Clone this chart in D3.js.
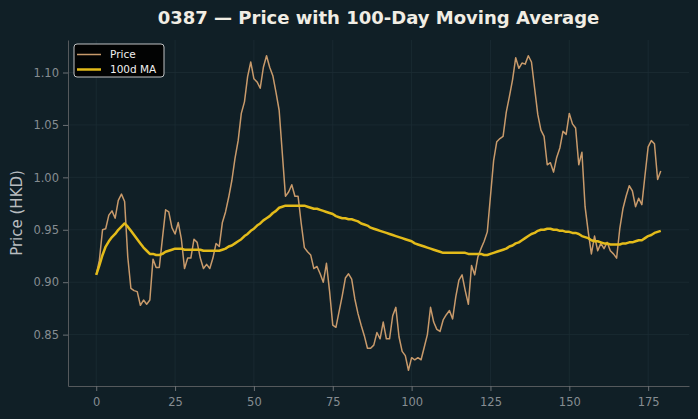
<!DOCTYPE html>
<html>
<head>
<meta charset="utf-8">
<script src="https://cdn.jsdelivr.net/npm/d3@7"></script>
<style>
  html, body { margin: 0; padding: 0; background: #101f26; }
  svg { display: block; }
</style>
</head>
<body>
<svg id="vis"></svg>
<script>
// price series (one value per trading day)
const price = [
  0.907, 0.921, 0.950, 0.951, 0.964, 0.968, 0.961, 0.978, 0.984, 0.977,
  0.924, 0.894, 0.892, 0.891, 0.878, 0.883, 0.879, 0.883, 0.922, 0.914,
  0.914, 0.942, 0.969, 0.967, 0.952, 0.946, 0.957, 0.941, 0.913, 0.923,
  0.923, 0.941, 0.938, 0.923, 0.913, 0.917, 0.913, 0.923, 0.937, 0.934,
  0.957, 0.967, 0.981, 0.997, 1.018, 1.035, 1.061, 1.072, 1.096, 1.110,
  1.094, 1.091, 1.085, 1.105, 1.116, 1.105, 1.097, 1.081, 1.064, 1.023,
  0.982, 0.986, 0.993, 0.982, 0.982, 0.956, 0.933, 0.929, 0.926, 0.913,
  0.915, 0.908, 0.900, 0.918, 0.891, 0.859, 0.857, 0.872, 0.887, 0.904,
  0.908, 0.903, 0.884, 0.870, 0.859, 0.849, 0.837, 0.837, 0.840, 0.852,
  0.846, 0.862, 0.846, 0.846, 0.868, 0.876, 0.848, 0.834, 0.830, 0.816,
  0.828, 0.826, 0.828, 0.826, 0.838, 0.850, 0.876, 0.862, 0.855, 0.853,
  0.864, 0.869, 0.873, 0.865, 0.886, 0.902, 0.907, 0.892, 0.879, 0.916,
  0.907, 0.924, 0.932, 0.939, 0.948, 0.982, 1.016, 1.034, 1.037, 1.039,
  1.062, 1.077, 1.093, 1.114, 1.104, 1.109, 1.108, 1.116, 1.110, 1.085,
  1.060, 1.045, 1.039, 1.012, 1.014, 1.005, 1.019, 1.028, 1.044, 1.041,
  1.061, 1.051, 1.047, 1.012, 1.024, 0.972, 0.948, 0.927, 0.944, 0.930,
  0.937, 0.932, 0.938, 0.930, 0.927, 0.923, 0.951, 0.970, 0.982, 0.992,
  0.987, 0.972, 0.980, 0.974, 1.002, 1.029, 1.035, 1.032, 0.998, 1.006
];

// 100 day moving average, also
const ma100 = [
  0.907, 0.916, 0.926, 0.934, 0.939, 0.943, 0.946, 0.950, 0.953, 0.956,
  0.953, 0.949, 0.945, 0.941, 0.937, 0.933, 0.930, 0.927, 0.927, 0.926,
  0.926, 0.927, 0.929, 0.930, 0.931, 0.932, 0.932, 0.932, 0.931, 0.931,
  0.931, 0.931, 0.931, 0.931, 0.930, 0.930, 0.930, 0.930, 0.930, 0.930,
  0.931, 0.932, 0.934, 0.935, 0.937, 0.939, 0.941, 0.944, 0.946, 0.949,
  0.951, 0.954, 0.956, 0.959, 0.961, 0.963, 0.966, 0.968, 0.971, 0.972,
  0.973, 0.973, 0.973, 0.973, 0.973, 0.973, 0.973, 0.972, 0.971, 0.970,
  0.970, 0.969, 0.968, 0.967, 0.966, 0.965, 0.963, 0.962, 0.961, 0.961,
  0.960, 0.960, 0.959, 0.958, 0.956, 0.955, 0.954, 0.952, 0.951, 0.950,
  0.949, 0.948, 0.947, 0.946, 0.945, 0.944, 0.943, 0.942, 0.941, 0.940,
  0.939, 0.937, 0.936, 0.935, 0.934, 0.933, 0.932, 0.931, 0.930, 0.929,
  0.928, 0.928, 0.928, 0.928, 0.928, 0.928, 0.928, 0.928, 0.927, 0.927,
  0.927, 0.927, 0.927, 0.926, 0.926, 0.927, 0.928, 0.929, 0.930, 0.931,
  0.932, 0.934, 0.935, 0.937, 0.938, 0.940, 0.942, 0.944, 0.946, 0.947,
  0.949, 0.950, 0.950, 0.951, 0.951, 0.950, 0.950, 0.949, 0.949, 0.948,
  0.948, 0.947, 0.947, 0.946, 0.944, 0.943, 0.942, 0.940, 0.939, 0.939,
  0.938, 0.937, 0.937, 0.936, 0.936, 0.936, 0.936, 0.937, 0.937, 0.938,
  0.938, 0.939, 0.940, 0.940, 0.942, 0.944, 0.945, 0.947, 0.948, 0.949
];

const xTicks = [0, 25, 50, 75, 100, 125, 150, 175];
const yTicks = [0.85, 0.90, 0.95, 1.00, 1.05, 1.10];
const seriesNames = ["Price", "100d MA"];

const W = 698, H = 419;
const MARGINS = {top: 40, right: 9, bottom: 33, left: 68};
const BG = "#101f26";
const PRICE_COL = "#c89a6b";
const MA_COL = "#e3bb1a";

let svg = d3.select("#vis")
    .attr("width", W)
    .attr("height", H);

svg.append("rect")
    .attr("width", W)
    .attr("height", H)
    .attr("fill", BG);

let innerW = W - MARGINS.left - MARGINS.right;
let innerH = H - MARGINS.top - MARGINS.bottom;

// matplotlib style 5% padding on both axes
let n = price.length - 1;
let xPad = n * 0.05;
let yMin = d3.min(price.concat(ma100)), yMax = d3.max(price.concat(ma100));
let yPad = (yMax - yMin) * 0.05;

let x = d3.scaleLinear()
    .domain([-xPad, n + xPad])
    .range([MARGINS.left, MARGINS.left + innerW]);

let y = d3.scaleLinear()
    .domain([yMin - yPad, yMax + yPad])
    .range([MARGINS.top + innerH, MARGINS.top]);

// faint grid
let grid = svg.append("g");
grid.selectAll("line.gx")
    .data(xTicks)
    .enter().append("line")
    .attr("x1", d => x(d)).attr("x2", d => x(d))
    .attr("y1", MARGINS.top).attr("y2", MARGINS.top + innerH)
    .attr("stroke", "#1c2c33")
    .attr("stroke-width", 0.8);
grid.selectAll("line.gy")
    .data(yTicks)
    .enter().append("line")
    .attr("x1", MARGINS.left).attr("x2", MARGINS.left + innerW)
    .attr("y1", d => y(d)).attr("y2", d => y(d))
    .attr("stroke", "#1c2c33")
    .attr("stroke-width", 0.8);

// axes
let xAxis = svg.append("g")
    .attr("transform", "translate(0," + (MARGINS.top + innerH) + ")")
    .call(d3.axisBottom(x).tickValues(xTicks).tickSize(5).tickPadding(4).tickSizeOuter(0));
let yAxis = svg.append("g")
    .attr("transform", "translate(" + MARGINS.left + ",0)")
    .call(d3.axisLeft(y).tickValues(yTicks).tickFormat(d3.format(".2f")).tickSize(5).tickPadding(4).tickSizeOuter(0));

[xAxis, yAxis].forEach(function(ax){
    ax.select(".domain").attr("stroke", "#55595c").attr("stroke-width", 1);
    ax.selectAll(".tick line").attr("stroke", "#6b7074");
    ax.selectAll(".tick text")
        .attr("fill", "#868d92")
        .attr("font-family", "DejaVu Sans")
        .attr("font-size", "11.5px");
});
xAxis.selectAll(".tick text").attr("dy", "0.95em");

// lines
let line = d3.line()
    .x((d, i) => x(i))
    .y(d => y(d));

svg.append("path")
    .attr("d", line(price))
    .attr("fill", "none")
    .attr("stroke", PRICE_COL)
    .attr("stroke-width", 1.5)
    .attr("stroke-linejoin", "round");

svg.append("path")
    .attr("d", line(ma100))
    .attr("fill", "none")
    .attr("stroke", MA_COL)
    .attr("stroke-width", 2.5)
    .attr("stroke-linejoin", "round");

// title
svg.append("text")
    .attr("x", MARGINS.left + innerW / 2)
    .attr("y", 24)
    .attr("text-anchor", "middle")
    .attr("font-family", "DejaVu Sans")
    .attr("font-weight", "bold")
    .attr("font-size", "18px")
    .attr("fill", "#f1ede4")
    .text("0387 — Price with 100-Day Moving Average");

// y label
svg.append("text")
    .attr("transform", "translate(22," + (MARGINS.top + innerH / 2) + ") rotate(-90)")
    .attr("text-anchor", "middle")
    .attr("font-family", "DejaVu Sans")
    .attr("font-size", "15px")
    .attr("fill", "#b9bdc0")
    .text("Price (HKD)");

// legend
let legend = svg.append("g").attr("transform", "translate(74,44)");
legend.append("rect")
    .attr("width", 90)
    .attr("height", 33)
    .attr("rx", 3)
    .attr("fill", "#020303")
    .attr("stroke", "#bfc2c4")
    .attr("stroke-width", 1);

let legCols = [PRICE_COL, MA_COL];
let legWidths = [1.5, 2.5];
seriesNames.forEach(function(name, i){
    let ly = 10.5 + i * 15;
    legend.append("line")
        .attr("x1", 3).attr("x2", 27)
        .attr("y1", ly).attr("y2", ly)
        .attr("stroke", legCols[i])
        .attr("stroke-width", legWidths[i]);
    legend.append("text")
        .attr("x", 36)
        .attr("y", ly + 3.8)
        .attr("font-family", "DejaVu Sans")
        .attr("font-size", "10.5px")
        .attr("fill", "#f0f0f0")
        .text(name);
});
</script>
</body>
</html>
